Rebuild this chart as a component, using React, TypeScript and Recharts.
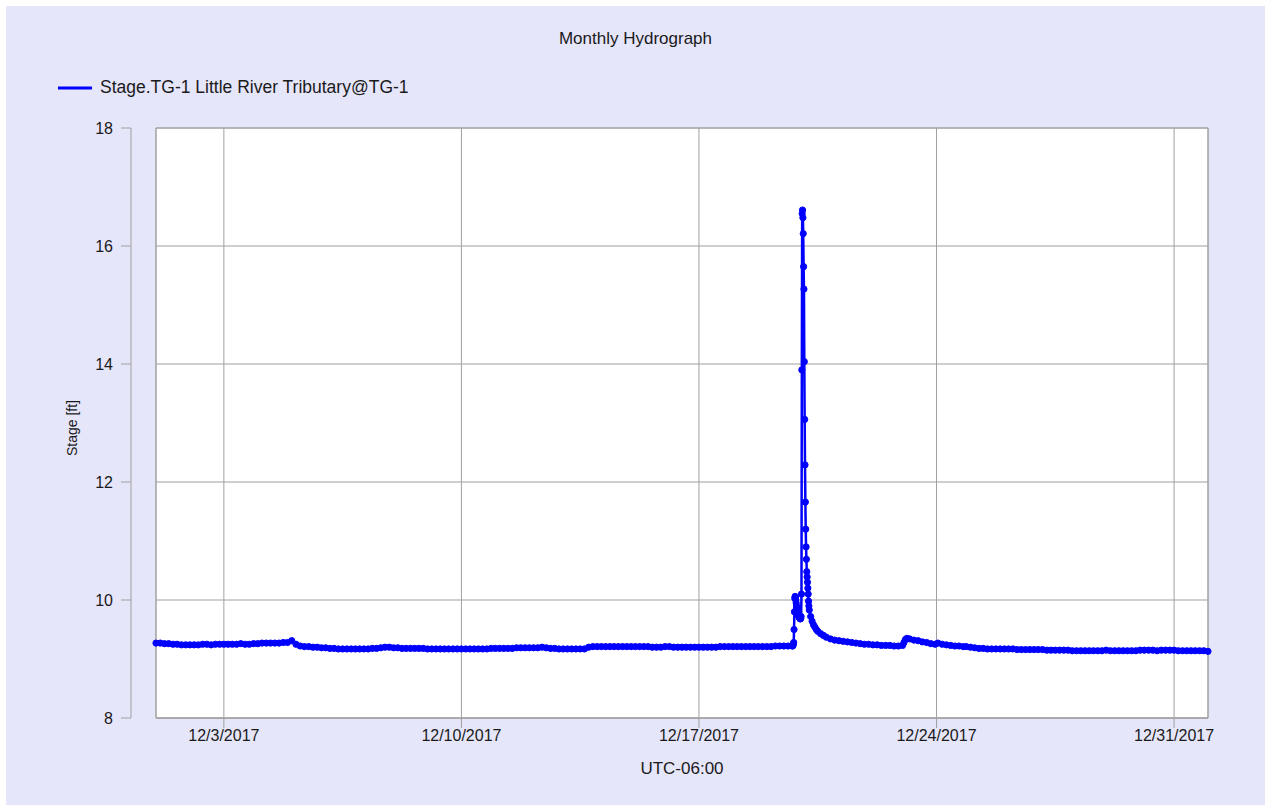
import { CartesianGrid, Legend, Line, LineChart, ReferenceArea, XAxis, YAxis } from 'recharts'

// hours since 12/1/2017 00:00 (UTC-06:00)
const EARLY_START = 0
const EARLY_STEP = 3
const EVENT_START = 450.25
const EVENT_STEP = 0.25
const LATE_START = 576
const LATE_STEP = 3
const X_END = 744

// stage [ft], 12/1 00:00 -> 12/19 18:00, every 3 h
const earlyStage = [
  9.27, 9.27, 9.26, 9.26, 9.25, 9.25, 9.24, 9.24, 9.24, 9.24,
  9.24, 9.25, 9.25, 9.24, 9.25, 9.25, 9.25, 9.25, 9.25, 9.25,
  9.26, 9.25, 9.25, 9.26, 9.26, 9.27, 9.27, 9.27, 9.27, 9.27,
  9.28, 9.28, 9.31, 9.25, 9.22, 9.21, 9.21, 9.2, 9.2, 9.19,
  9.19, 9.18, 9.18, 9.17, 9.17, 9.17, 9.17, 9.17, 9.17, 9.17,
  9.17, 9.18, 9.18, 9.19, 9.2, 9.2, 9.19, 9.19, 9.18, 9.18,
  9.18, 9.18, 9.18, 9.18, 9.17, 9.17, 9.17, 9.17, 9.17, 9.17,
  9.17, 9.17, 9.17, 9.17, 9.17, 9.17, 9.17, 9.17, 9.17, 9.18,
  9.18, 9.18, 9.18, 9.18, 9.18, 9.19, 9.19, 9.19, 9.19, 9.19,
  9.19, 9.2, 9.19, 9.18, 9.18, 9.17, 9.17, 9.17, 9.17, 9.17,
  9.17, 9.17, 9.2, 9.21, 9.21, 9.21, 9.21, 9.21, 9.21, 9.21,
  9.21, 9.21, 9.21, 9.21, 9.21, 9.21, 9.21, 9.2, 9.2, 9.2,
  9.21, 9.21, 9.2, 9.2, 9.2, 9.2, 9.2, 9.2, 9.2, 9.2,
  9.2, 9.2, 9.2, 9.21, 9.21, 9.21, 9.21, 9.21, 9.21, 9.21,
  9.21, 9.21, 9.21, 9.21, 9.21, 9.21, 9.22, 9.22, 9.22, 9.22,
  9.22,
]

// storm of 12/19-12/20, every 15 min
const eventStage = [
  9.22, 9.23, 9.25, 9.28, 9.5, 9.8, 10.03, 10.06,
  10.05, 10.0, 9.95, 9.9, 9.86, 9.83, 9.8, 9.77,
  9.75, 9.73, 9.71, 9.7, 9.69, 9.68, 9.68, 9.69,
  9.72, 10.1, 13.9, 16.55, 16.61, 16.48, 16.21, 15.65,
  15.27, 14.04, 13.06, 12.29, 11.66, 11.2, 10.9, 10.69,
  10.48, 10.39, 10.3, 10.2, 10.1, 9.98, 9.9, 9.83,
]

const recessionHours = [
  463, 464, 465, 466, 467, 468, 470, 472, 474, 477,
  480, 483, 486, 489, 492, 495, 498, 501, 504, 507,
  510, 513, 516, 519, 522, 525, 528, 529, 530, 531,
  533, 536, 539, 542, 545, 548, 551, 553, 556, 559,
  562, 565, 568, 571, 573,
]
const recessionStage = [
  9.72, 9.64, 9.58, 9.54, 9.5, 9.47, 9.43, 9.4, 9.37, 9.34,
  9.32, 9.31, 9.3, 9.29, 9.28, 9.27, 9.26, 9.25, 9.25, 9.24,
  9.24, 9.23, 9.23, 9.23, 9.22, 9.22, 9.23, 9.28, 9.33, 9.35,
  9.34, 9.32, 9.31, 9.29, 9.28, 9.26, 9.25, 9.27, 9.25, 9.24,
  9.23, 9.22, 9.22, 9.21, 9.21,
]

// 12/25 00:00 -> 1/1 00:00, every 3 h
const lateStage = [
  9.2, 9.19, 9.18, 9.18, 9.17, 9.17, 9.17, 9.17, 9.17,
  9.17, 9.17, 9.16, 9.16, 9.16, 9.16, 9.16, 9.16, 9.16,
  9.15, 9.15, 9.15, 9.15, 9.15, 9.15, 9.14, 9.14, 9.14,
  9.14, 9.14, 9.14, 9.14, 9.14, 9.15, 9.14, 9.14, 9.14,
  9.14, 9.14, 9.14, 9.14, 9.15, 9.15, 9.15, 9.15, 9.14,
  9.15, 9.15, 9.15, 9.15, 9.14, 9.14, 9.14, 9.14, 9.14,
  9.14, 9.14, 9.13,
]

const xTickHours = [48, 216, 384, 552, 720]
const xTickLabels = ['12/3/2017', '12/10/2017', '12/17/2017', '12/24/2017', '12/31/2017']
const yTicks = [8, 10, 12, 14, 16, 18]

const data = [
  ...earlyStage.map((v, i) => ({ t: EARLY_START + i * EARLY_STEP, v })),
  ...eventStage.map((v, i) => ({ t: EVENT_START + i * EVENT_STEP, v })),
  ...recessionHours.map((t, i) => ({ t, v: recessionStage[i] })),
  ...lateStage.map((v, i) => ({ t: LATE_START + i * LATE_STEP, v })),
]

const GRID = '#a0a0a0'
const TEXT = '#1a1a1a'
const BLUE = '#0000ff'
const SERIES_NAME = 'Stage.TG-1 Little River Tributary@TG-1'
const AXIS_GAP = 25 // y axis stands off the plot area

// y tick: short mark on the detached axis line + value
function YTick({ x, y, payload }: any) {
  const ax = x - AXIS_GAP
  return (
    <g>
      <line x1={ax - 10} y1={y} x2={ax} y2={y} stroke={GRID} />
      <text x={ax - 18} y={y} textAnchor="end" dominantBaseline="central" fill={TEXT} fontSize={16}>
        {payload.value}
      </text>
    </g>
  )
}

// detached axis line and rotated axis title
function YAxisDecor({ viewBox }: any) {
  const ax = viewBox.x + viewBox.width - AXIS_GAP
  const cx = viewBox.x + 21
  const cy = viewBox.y + viewBox.height / 2 + 5
  return (
    <g>
      <line x1={ax} y1={viewBox.y} x2={ax} y2={viewBox.y + viewBox.height} stroke={GRID} />
      <text
        x={cx}
        y={cy}
        transform={`rotate(-90 ${cx} ${cy})`}
        textAnchor="middle"
        dominantBaseline="central"
        fill={TEXT}
        fontSize={14}
      >
        Stage [ft]
      </text>
    </g>
  )
}

export default function App() {
  return (
    <div
      style={{
        position: 'absolute',
        left: 0,
        top: 0,
        width: 1265,
        height: 805,
        background: '#fff',
        fontFamily: '"Liberation Sans", Arial, sans-serif',
        color: TEXT,
      }}
    >
      <div style={{ position: 'absolute', left: 6, top: 6, width: 1259, height: 799, background: '#e6e6fa' }} />
      <div style={{ position: 'absolute', left: 6, top: 29, width: 1259, textAlign: 'center', fontSize: 17 }}>
        Monthly Hydrograph
      </div>
      <div style={{ position: 'absolute', left: 0, top: 0 }}>
        <LineChart width={1265} height={805} data={data} margin={{ top: 128, right: 57, bottom: 47, left: 51 }}>
          <CartesianGrid stroke={GRID} fill="#fff" fillOpacity={1} />
          <XAxis
            dataKey="t"
            type="number"
            domain={[0, X_END]}
            ticks={xTickHours}
            tickFormatter={(h) => xTickLabels[xTickHours.indexOf(h)] ?? ''}
            height={40}
            tickSize={10}
            tickMargin={2}
            axisLine={{ stroke: GRID }}
            tickLine={{ stroke: GRID }}
            tick={{ fill: TEXT, fontSize: 16 }}
            label={{ value: 'UTC-06:00', position: 'bottom', offset: 4, fill: TEXT, fontSize: 17 }}
          />
          <YAxis
            domain={[8, 18]}
            ticks={yTicks}
            width={105}
            tickSize={0}
            tickMargin={0}
            axisLine={false}
            tickLine={false}
            tick={<YTick />}
            label={{ value: 'Stage [ft]', content: <YAxisDecor /> }}
          />
          <ReferenceArea x1={0} x2={X_END} y1={8} y2={18} fill="none" stroke={GRID} />
          <Line
            type="linear"
            dataKey="v"
            name={SERIES_NAME}
            stroke={BLUE}
            strokeWidth={2.5}
            dot={{ r: 3.1, fill: BLUE, stroke: BLUE, strokeWidth: 1 }}
            activeDot={false}
            isAnimationActive={false}
          />
          <Legend
            layout="horizontal"
            verticalAlign="middle"
            align="center"
            wrapperStyle={{ top: 77, left: 57, width: 'auto' }}
            content={() => (
              <div style={{ display: 'flex', alignItems: 'center', fontSize: 17.5, color: TEXT }}>
                <svg width={36} height={12}>
                  <line x1={1} y1={6} x2={35} y2={6} stroke={BLUE} strokeWidth={3} />
                </svg>
                <span style={{ marginLeft: 7 }}>{SERIES_NAME}</span>
              </div>
            )}
          />
        </LineChart>
      </div>
    </div>
  )
}
